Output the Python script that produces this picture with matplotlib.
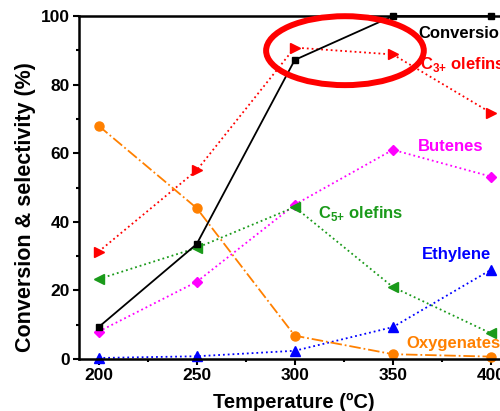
import numpy as np
import matplotlib.pyplot as plt
from matplotlib.patches import Ellipse
from matplotlib.ticker import MultipleLocator

plt.rcParams['font.family'] = ['Liberation Sans', 'DejaVu Sans']
plt.rcParams['font.weight'] = 'bold'
plt.rcParams['mathtext.fontset'] = 'custom'
plt.rcParams['mathtext.rm'] = 'Liberation Sans:bold'
plt.rcParams['mathtext.bf'] = 'Liberation Sans:bold'

# temperatures and measured values (%)
temps = [200, 250, 300, 350, 400]
conversion = [9.3, 33.5, 87.2, 100.0, 100.0]
c3_olefins = [31.3, 55.0, 90.8, 88.8, 71.8]
butenes = [8.0, 22.5, 45.0, 61.0, 53.2]
c5_olefins = [23.3, 32.4, 44.3, 21.0, 7.5]
ethylene = [0.3, 0.8, 2.4, 9.3, 26.0]
oxygenates = [68.0, 44.0, 6.8, 1.4, 0.7]

fig = plt.figure(figsize=(5.0, 4.11), dpi=100)
ax = fig.add_axes([0.158, 0.1265, 0.863, 0.8345])

ax.plot(temps, conversion, '-', color='black', marker='s', ms=5, lw=1.3, clip_on=False, zorder=5)
ax.plot(temps, c3_olefins, ':', color='#ff0000', marker='>', ms=7, lw=1.3, clip_on=False)
ax.plot(temps, butenes, ':', color='#ff00ff', marker='D', ms=5.5, lw=1.3, clip_on=False)
ax.plot(temps, c5_olefins, ':', color='#1a9a1a', marker='<', ms=7, lw=1.3, clip_on=False)
ax.plot(temps, ethylene, ':', color='#0000ff', marker='^', ms=7, lw=1.3, clip_on=False)
ax.plot(temps, oxygenates, '-.', color='#ff8000', marker='o', ms=6.5, lw=1.3, clip_on=False)

# series labels
ax.text(363, 95.0, 'Conversion', color='black', fontsize=12, va='center')
ax.text(364, 86.0, 'C$_{3{+}}$ olefins', color='#ff0000', fontsize=12, va='center')
ax.text(363, 62.0, 'Butenes', color='#ff00ff', fontsize=12, va='center')
ax.text(312, 42.5, 'C$_{5{+}}$ olefins', color='#1a9a1a', fontsize=12, va='center')
ax.text(365, 30.4, 'Ethylene', color='#0000ff', fontsize=12, va='center')
ax.text(357, 4.6, 'Oxygenates', color='#ff8000', fontsize=12, va='center')

# highlight ring
ax.add_patch(Ellipse((325.6, 89.9), 80.4, 20.1, fill=False, ec='#ff0000', lw=4.3,
                     transform=ax.transData, clip_on=False, zorder=10))

ax.set_xlim(190, 410)
ax.set_ylim(0, 100)
ax.xaxis.set_major_locator(MultipleLocator(50))
ax.xaxis.set_minor_locator(MultipleLocator(25))
ax.yaxis.set_major_locator(MultipleLocator(20))
ax.yaxis.set_minor_locator(MultipleLocator(10))
ax.tick_params(which='major', direction='out', length=4.5, width=1.5, labelsize=12.5, pad=2)
ax.tick_params(which='minor', direction='out', length=2.5, width=1.5)
for lab in ax.get_xticklabels() + ax.get_yticklabels():
    lab.set_fontweight('bold')
for sp in ax.spines.values():
    sp.set_linewidth(1.8)

fig.text(294 / 500, 1 - 408 / 411, 'Temperature (ºC)', fontsize=14.5, fontweight='bold',
         ha='center', va='baseline')
fig.text(26 / 500, 1 - 207 / 411, 'Conversion & selectivity (%)', fontsize=15.5,
         fontweight='bold', rotation=90, ha='center', va='center')

fig.savefig('out.png', dpi=100)
